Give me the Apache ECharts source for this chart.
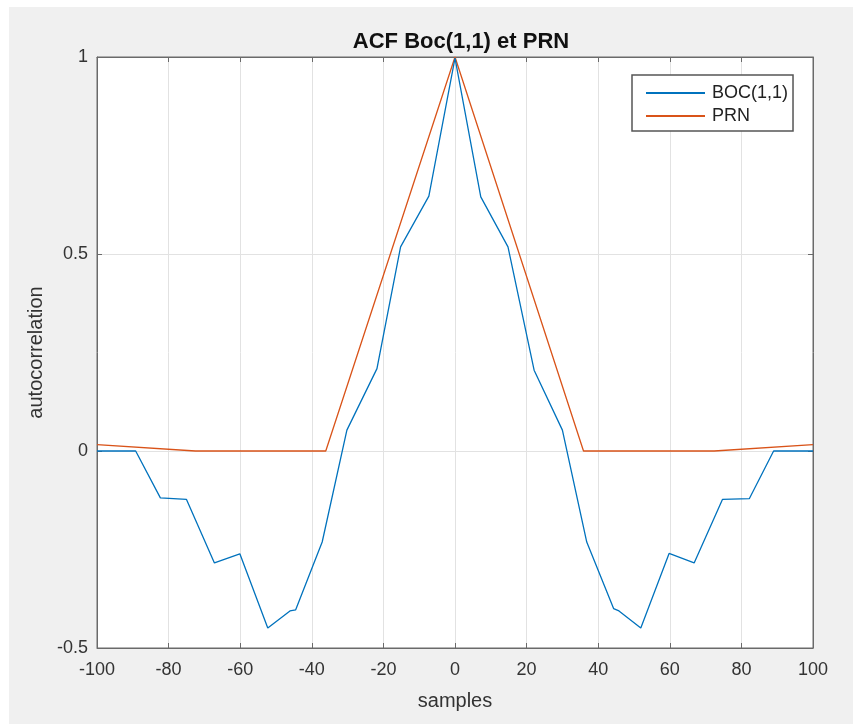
<!DOCTYPE html>
<html>
<head>
<meta charset="utf-8">
<title>ACF Boc(1,1) et PRN</title>
<script src="https://cdn.jsdelivr.net/npm/echarts@6/dist/echarts.min.js"></script>
<style>
  html, body { margin: 0; padding: 0; background: #ffffff; }
  #panel { position: absolute; left: 9px; top: 7px; right: 0; bottom: 0; background: #f0f0f0; }
  #chart { position: absolute; left: 0; top: 0; width: 853px; height: 724px; }
</style>
</head>
<body>
<div id="panel"></div>
<div id="chart"></div>
<script>
// Autocorrelation of the BOC(1,1) signal (lag in samples)
const bocLag = [-100, -89.2, -82.3, -75.0, -67.2, -60.1, -52.3, -46.1, -44.5, -37.1, -30.2, -21.8, -15.2, -7.3, 0,
                7.2, 14.8, 22.1, 30.0, 36.8, 44.3, 45.8, 51.9, 59.8, 66.8, 74.7, 82.2, 89.0, 100];
const bocAcf = [0, 0, -0.119, -0.123, -0.284, -0.261, -0.449, -0.406, -0.403, -0.231, 0.053, 0.209, 0.518, 0.647, 0.997,
                0.645, 0.518, 0.205, 0.053, -0.231, -0.400, -0.406, -0.449, -0.260, -0.284, -0.123, -0.121, 0, 0];

// Autocorrelation of the PRN code
const prnLag = [-100, -72.5, -36.1, 0, 35.9, 72.4, 100];
const prnAcf = [0.016, 0, 0, 1, 0, 0, 0.016];

// Axis ticks
const xTicks = { min: -100, max: 100, step: 20 };
const yTicks = { min: -0.5, max: 1, step: 0.5 };

const seriesNames = ['BOC(1,1)', 'PRN'];
const pair = (xs, ys) => xs.map((x, i) => [x, ys[i]]);

const FONT = 'Liberation Sans, Arial, Helvetica, sans-serif';
const boxColor = '#6a6a6a';
const boxLine = { show: true, onZero: false, lineStyle: { color: boxColor, width: 1 } };
const tickStyle = { show: true, inside: true, length: 5, lineStyle: { color: boxColor, width: 1 } };

const chart = echarts.init(document.getElementById('chart'), null, { renderer: 'canvas' });
chart.setOption({
  backgroundColor: 'transparent',
  animation: false,
  title: {
    text: 'ACF Boc(1,1) et PRN',
    left: 456, top: 26, textAlign: 'center',
    textStyle: { fontFamily: FONT, fontSize: 22, fontWeight: 'bold', color: '#111' }
  },
  grid: {
    left: 97, right: 40, top: 57, bottom: 76,
    show: true, backgroundColor: '#ffffff', borderColor: boxColor, borderWidth: 1
  },
  legend: {
    data: seriesNames,
    orient: 'vertical',
    left: 632, top: 75,
    padding: [9, 5, 6, 14],
    itemGap: 5,
    itemWidth: 59, itemHeight: 2,
    icon: 'rect',
    backgroundColor: '#ffffff',
    borderColor: '#555',
    borderWidth: 1.5,
    textStyle: { fontFamily: FONT, fontSize: 18, color: '#222', padding: [0, 0, 0, 2] }
  },
  xAxis: [
    {
      type: 'value', position: 'bottom',
      min: xTicks.min, max: xTicks.max, interval: xTicks.step,
      name: 'samples', nameLocation: 'middle', nameGap: 43,
      nameTextStyle: { fontFamily: FONT, fontSize: 20, color: '#333' },
      axisLine: boxLine,
      axisTick: tickStyle,
      axisLabel: { fontFamily: FONT, fontSize: 18, color: '#333', margin: 13 },
      splitLine: { show: true, lineStyle: { color: '#e2e2e2', width: 1 } }
    },
    {
      type: 'value', position: 'top',
      min: xTicks.min, max: xTicks.max, interval: xTicks.step,
      axisLine: boxLine,
      axisTick: tickStyle, axisLabel: { show: false }, splitLine: { show: false }
    }
  ],
  yAxis: [
    {
      type: 'value', position: 'left',
      min: yTicks.min, max: yTicks.max, interval: yTicks.step,
      name: 'autocorrelation', nameLocation: 'middle', nameGap: 50, nameRotate: 90,
      nameTextStyle: { fontFamily: FONT, fontSize: 20, color: '#333' },
      axisLine: boxLine,
      axisTick: tickStyle,
      axisLabel: { fontFamily: FONT, fontSize: 18, color: '#333', margin: 9 },
      splitLine: { show: true, lineStyle: { color: '#e2e2e2', width: 1 } }
    },
    {
      type: 'value', position: 'right',
      min: yTicks.min, max: yTicks.max, interval: yTicks.step,
      axisLine: boxLine,
      axisTick: tickStyle, axisLabel: { show: false }, splitLine: { show: false }
    }
  ],
  series: [
    {
      name: seriesNames[0], type: 'line', xAxisIndex: 0, yAxisIndex: 0,
      data: pair(bocLag, bocAcf), showSymbol: false, symbol: 'none',
      color: '#0072BD', lineStyle: { width: 1.3, color: '#0072BD' }, z: 3
    },
    {
      name: seriesNames[1], type: 'line', xAxisIndex: 0, yAxisIndex: 0,
      data: pair(prnLag, prnAcf), showSymbol: false, symbol: 'none',
      color: '#D95319', lineStyle: { width: 1.3, color: '#D95319' }, z: 2
    }
  ]
});
</script>
</body>
</html>
